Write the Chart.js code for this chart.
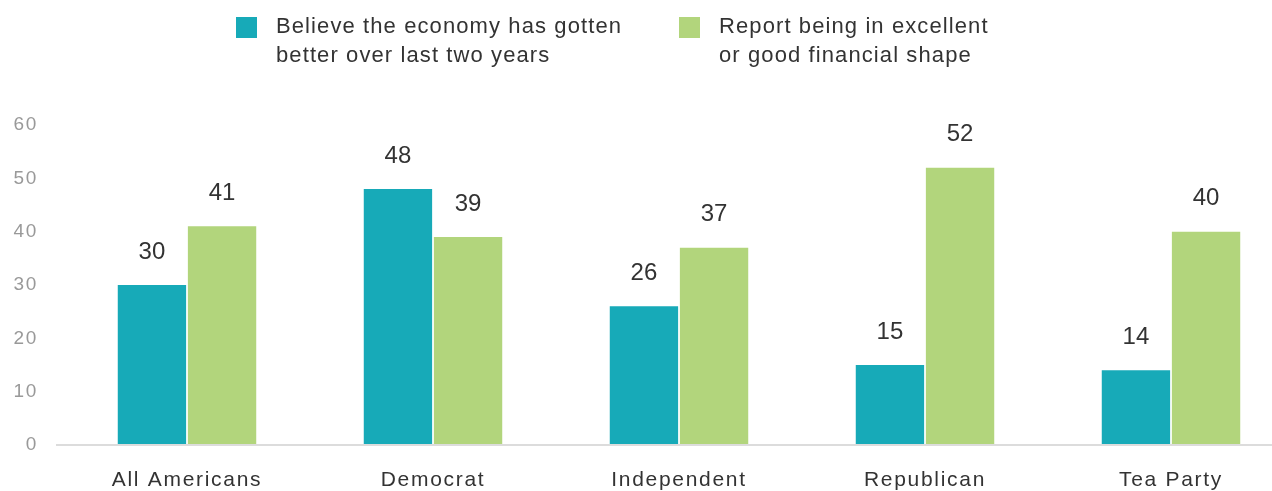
<!DOCTYPE html>
<html>
<head>
<meta charset="utf-8">
<script src="https://cdn.jsdelivr.net/npm/chart.js@4"></script>
<style>
  html, body { margin: 0; padding: 0; background: #fff; overflow: hidden; }
  body { width: 1272px; height: 491px; position: relative; font-family: "Liberation Sans", Arial, sans-serif; }
  #wrap { position: absolute; left: 0; top: 0; width: 1294px; height: 491px; }
  .legend { position: absolute; top: 11px; display: flex; align-items: flex-start; color: #333; font-size: 22px; line-height: 29px; letter-spacing: 1.1px; }
  .legend .box { width: 21px; height: 21px; margin-top: 6px; margin-right: 19px; }
</style>
</head>
<body>
<div id="wrap"><canvas id="chart"></canvas></div>
<div class="legend" style="left:236px"><div class="box" style="background:#17aab8"></div><div>Believe the economy has gotten<br>better over last two years</div></div>
<div class="legend" style="left:679px"><div class="box" style="background:#b2d57c"></div><div>Report being in excellent<br>or good financial shape</div></div>
<script>
let categories = ['All Americans', 'Democrat', 'Independent', 'Republican', 'Tea Party'];
let economyBetter = [30, 48, 26, 15, 14]; // Believe the economy has gotten better
let goodShape = [41, 39, 37, 52, 40]; // Report being in excellent or good financial shape
let yTicks = [0, 10, 20, 30, 40, 50, 60];

let tealColor = '#17aab8';
let greenColor = '#b2d57c';

// разрядка букв для подписей осей
const spacing = {
  id: 'spacing',
  beforeDraw(chart) {
    chart.ctx.letterSpacing = '1.7px';
  }
};

// подписи над столбиками
const valueLabels = {
  id: 'valueLabels',
  afterDatasetsDraw(chart) {
    const ctx = chart.ctx;
    ctx.save();
    ctx.letterSpacing = '0px';
    ctx.font = '24px "Liberation Sans", Arial, sans-serif';
    ctx.fillStyle = '#333';
    ctx.textAlign = 'center';
    ctx.textBaseline = 'middle';
    chart.data.datasets.forEach((ds, i) => {
      chart.getDatasetMeta(i).data.forEach((bar, j) => {
        ctx.fillText(ds.data[j], bar.x, bar.y - 33);
      });
    });
    ctx.restore();
  }
};

let ctx = document.getElementById('chart').getContext('2d');
let chart = new Chart(ctx, {
  type: 'bar',
  data: {
    labels: categories,
    datasets: [
      {
        label: 'Believe the economy has gotten better over last two years',
        data: economyBetter,
        backgroundColor: tealColor,
        categoryPercentage: 0.57,
        barPercentage: 0.975
      },
      {
        label: 'Report being in excellent or good financial shape',
        data: goodShape,
        backgroundColor: greenColor,
        categoryPercentage: 0.57,
        barPercentage: 0.975
      }
    ]
  },
  options: {
    responsive: true,
    maintainAspectRatio: false,
    animation: false,
    layout: { padding: { top: 125, left: 0, right: 0, bottom: 0 } },
    plugins: {
      legend: { display: false },
      tooltip: { enabled: false }
    },
    scales: {
      x: {
        grid: { display: false },
        border: { display: false },
        ticks: {
          color: '#333',
          padding: 15,
          font: { family: '"Liberation Sans", Arial, sans-serif', size: 21 }
        },
        afterFit: (scale) => { scale.height = 46; }
      },
      y: {
        min: 0,
        max: 60,
        afterBuildTicks: (scale) => { scale.ticks = yTicks.map(v => ({ value: v })); },
        border: { display: false },
        grid: {
          drawTicks: true,
          tickLength: 8,
          lineWidth: 2,
          color: (c) => c.tick && c.tick.value === 0 ? '#dcdcdc' : 'rgba(0,0,0,0)'
        },
        ticks: {
          color: '#999',
          padding: 18,
          font: { family: '"Liberation Sans", Arial, sans-serif', size: 19 }
        },
        afterFit: (scale) => { scale.width = 64; }
      }
    }
  },
  plugins: [spacing, valueLabels]
});
</script>
</body>
</html>
